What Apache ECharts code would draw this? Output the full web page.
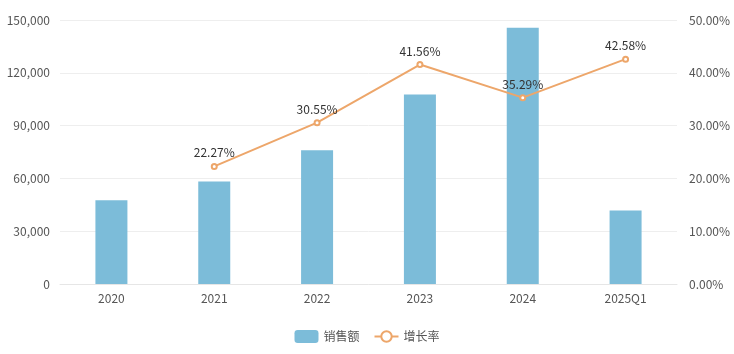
<!DOCTYPE html>
<html>
<head>
<meta charset="utf-8">
<script src="https://cdn.jsdelivr.net/npm/echarts@6/dist/echarts.min.js"></script>
<style>
  html, body { margin: 0; padding: 0; background: #fff; }
  #chart { width: 734px; height: 354px; }
</style>
</head>
<body>
<div id="chart"></div>
<script>
// 类目与数据
const categories = ['2020', '2021', '2022', '2023', '2024', '2025Q1'];
const salesValues = [47600, 58200, 76000, 107600, 145600, 41800];
const growthValues = [null, 22.27, 30.55, 41.56, 35.29, 42.58];
const legendNames = ['销售额', '增长率'];

const chart = echarts.init(document.getElementById('chart'));
const fontFamily = '"Noto Sans CJK SC", "Noto Sans", sans-serif';

chart.setOption({
  textStyle: { fontFamily: fontFamily },
  grid: {
    left: 60,
    right: 57,
    top: 20,
    bottom: 70,
    containLabel: false,
  },
  legend: {
    bottom: 6,
    itemWidth: 24,
    itemHeight: 13,
    itemGap: 14,
    textStyle: { color: '#555', fontSize: 12 },
    data: legendNames,
  },
  xAxis: {
    type: 'category',
    data: categories,
    axisLine: { lineStyle: { color: '#e6e6e6' } },
    axisTick: { show: false },
    axisLabel: { color: '#555', fontSize: 12, margin: 8 },
  },
  yAxis: [
    {
      type: 'value',
      min: 0,
      max: 150000,
      interval: 30000,
      axisLine: { show: false },
      axisTick: { show: false },
      splitLine: { lineStyle: { color: '#eeeeee' } },
      axisLabel: {
        color: '#555',
        fontSize: 12,
        margin: 10,
        formatter: function(v) {
          return v.toLocaleString('en-US');
        },
      },
    },
    {
      type: 'value',
      min: 0,
      max: 50,
      interval: 10,
      axisLine: { show: false },
      axisTick: { show: false },
      splitLine: { show: false },
      axisLabel: {
        color: '#555',
        fontSize: 12,
        margin: 12,
        formatter: function(v) {
          return v.toFixed(2) + '%';
        },
      },
    },
  ],
  series: [
    {
      name: legendNames[0],
      type: 'bar',
      data: salesValues,
      barWidth: 32,
      itemStyle: { color: '#7cbcd9' },
    },
    {
      name: legendNames[1],
      type: 'line',
      yAxisIndex: 1,
      data: growthValues,
      symbol: 'emptyCircle',
      symbolSize: 5,
      lineStyle: { color: '#eda66a', width: 2 },
      itemStyle: { color: '#eda66a', borderWidth: 1.5 },
      label: {
        show: true,
        position: 'top',
        distance: 4,
        color: '#333',
        fontSize: 12,
        formatter: function(p) {
          return p.value.toFixed(2) + '%';
        },
      },
    },
  ],
});
</script>
</body>
</html>
